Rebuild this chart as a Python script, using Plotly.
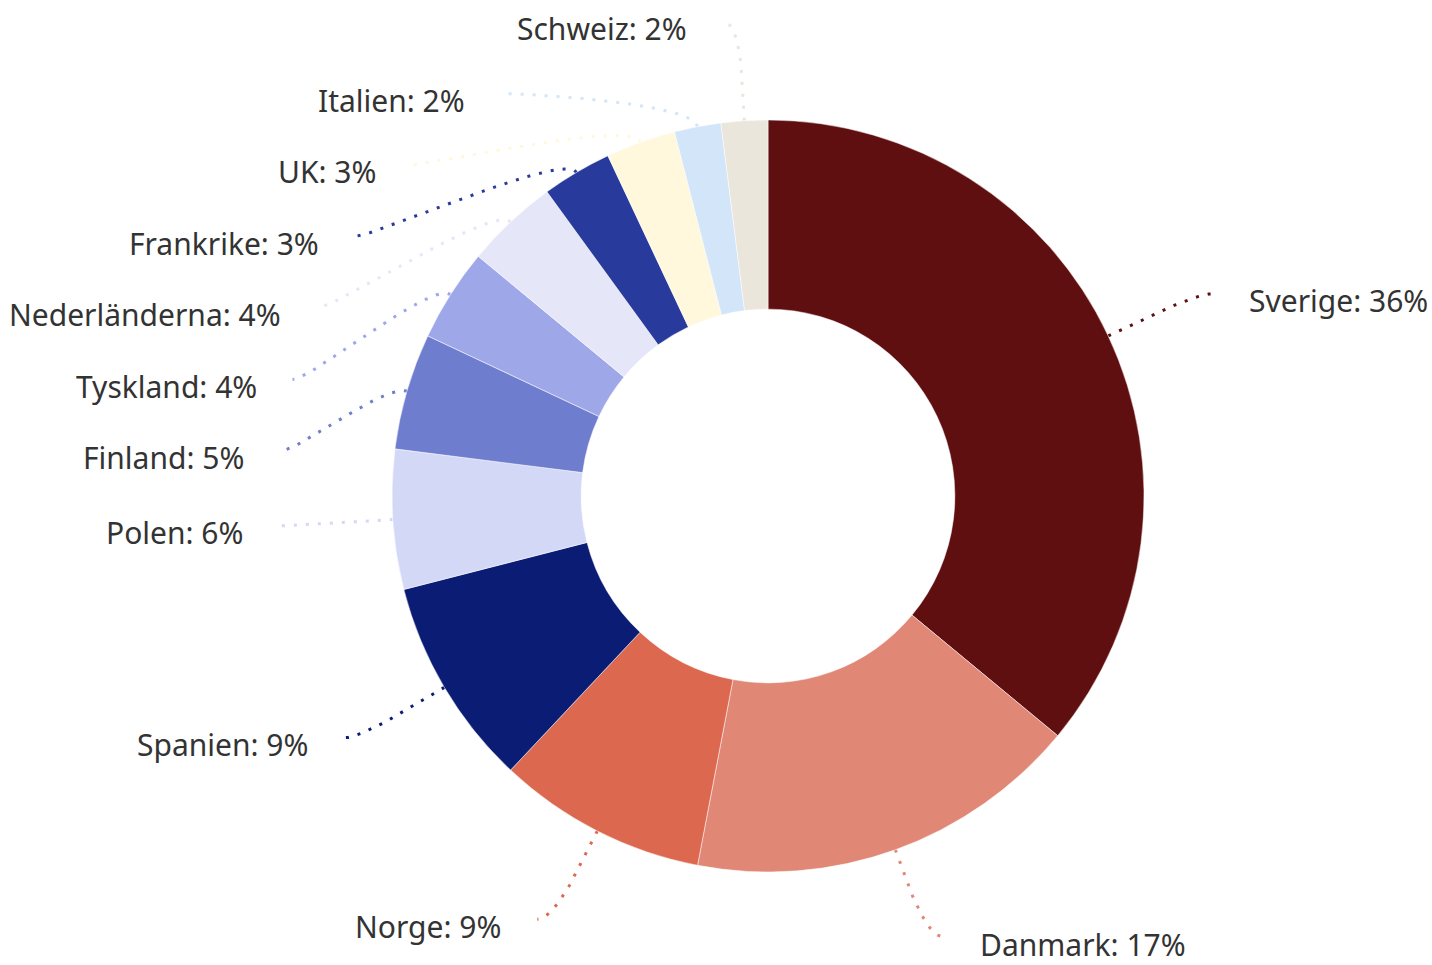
import numpy as np
import plotly.graph_objects as go

# ---- data ----
countries = ["Sverige", "Danmark", "Norge", "Spanien", "Polen", "Finland",
             "Tyskland", "Nederländerna", "Frankrike", "UK", "Italien", "Schweiz"]
shares = [36, 17, 9, 9, 6, 5, 4, 4, 3, 3, 2, 2]
colors = ["#600F11", "#E08776", "#DC6850", "#0B1C75", "#D4D8F7", "#6E7DCD",
          "#9EA8E8", "#E5E7F8", "#283A9C", "#FFF8DC", "#D3E5F8", "#EBE6DC"]

# ---- layout geometry (pixels) ----
W, H = 1432, 965
cx, cy = 768, 496          # pie centre
r_out = 376                # outer radius
hole = 0.497
label_r = 475              # radius used for natural label y
pad = 15                   # extra horizontal reach of connector
gap = 34                   # connector end -> text
spacing = 71.5             # min vertical distance between labels on a side
text_dy = 7                # text centre below connector end
font_size = 30
box_half = 21              # half height of a label box
font_family = "Noto Sans, Lato, sans-serif"

vals = np.array(shares, dtype=float)
frac = vals / vals.sum()
ends = np.cumsum(frac) * 360.0
starts = ends - frac * 360.0
mids = np.radians((starts + ends) / 2.0)   # clockwise from 12 o'clock

sx = np.sin(mids)
sy = -np.cos(mids)          # pixel y grows downwards

fig = go.Figure()

# label positions (simple distribution, top to bottom per side, kept inside)
nat_y = cy + label_r * sy
pos_y = np.array(nat_y)
x_y = np.array(nat_y)       # y used to derive the label's x
y_max = H - box_half - text_dy
for side in (1, -1):
    idx = [i for i in range(len(vals)) if (sx[i] < 0) == (side == -1)]
    idx.sort(key=lambda i: nat_y[i])
    prev = None
    for i in idx:
        y = nat_y[i]
        if prev is not None:
            y = max(y, prev + spacing)
        pos_y[i] = y
        x_y[i] = y
        prev = y
    nxt = None
    for i in reversed(idx):
        y = pos_y[i]
        if y > y_max:
            y = y_max          # clamped to the edge: keep x of its natural spot
        elif nxt is not None and y > nxt - spacing:
            y = nxt - spacing
            x_y[i] = y
        pos_y[i] = y
        nxt = y

annotations = []
for i, name in enumerate(countries):
    left = sx[i] < 0
    sgn = -1 if left else 1
    ly = pos_y[i]
    dy = np.clip((x_y[i] - cy) / label_r, -1, 1)
    lx = cx + sgn * (label_r * np.cos(np.arcsin(dy)) + pad)
    # connector: touching slice -> label, soft cubic curve
    tx, ty = cx + r_out * sx[i], cy + r_out * sy[i]
    p0 = np.array([tx, ty])
    p1 = np.array([tx + 25 * sx[i], ty + 25 * sy[i]])
    p2 = np.array([lx - sgn * 20, ly])
    p3 = np.array([lx, ly])
    t = np.linspace(0, 1, 50)[:, None]
    curve = ((1 - t) ** 3) * p0 + 3 * ((1 - t) ** 2) * t * p1 + 3 * (1 - t) * t ** 2 * p2 + t ** 3 * p3
    fig.add_trace(go.Scatter(
        x=curve[:, 0], y=curve[:, 1], mode="lines", xaxis="x", yaxis="y",
        line=dict(color=colors[i], width=3, dash="3px,9px"),
        hoverinfo="skip", showlegend=False))
    annotations.append(dict(
        x=(lx + sgn * gap) / W, y=1 - (ly + text_dy) / H,
        xref="paper", yref="paper",
        xanchor="right" if left else "left", yanchor="middle",
        text=f"{name}: {int(shares[i])}%", showarrow=False,
        font=dict(family=font_family, size=font_size, color="#333333")))

fig.add_trace(go.Pie(
    labels=countries, values=shares, sort=False, direction="clockwise", rotation=0,
    hole=hole, textinfo="none", showlegend=False,
    marker=dict(colors=colors, line=dict(color="#FFFFFF", width=0.5)),
    domain=dict(x=[(cx - r_out) / W, (cx + r_out) / W],
                y=[1 - (cy + r_out) / H, 1 - (cy - r_out) / H]),
    hovertemplate="%{label}: %{value}%<extra></extra>"))

fig.update_layout(
    width=W, height=H, margin=dict(l=0, r=0, t=0, b=0),
    paper_bgcolor="white", plot_bgcolor="white",
    xaxis=dict(range=[0, W], visible=False, fixedrange=True, domain=[0, 1]),
    yaxis=dict(range=[H, 0], visible=False, fixedrange=True, domain=[0, 1]),
    annotations=annotations,
)

fig.write_html("out.html")
